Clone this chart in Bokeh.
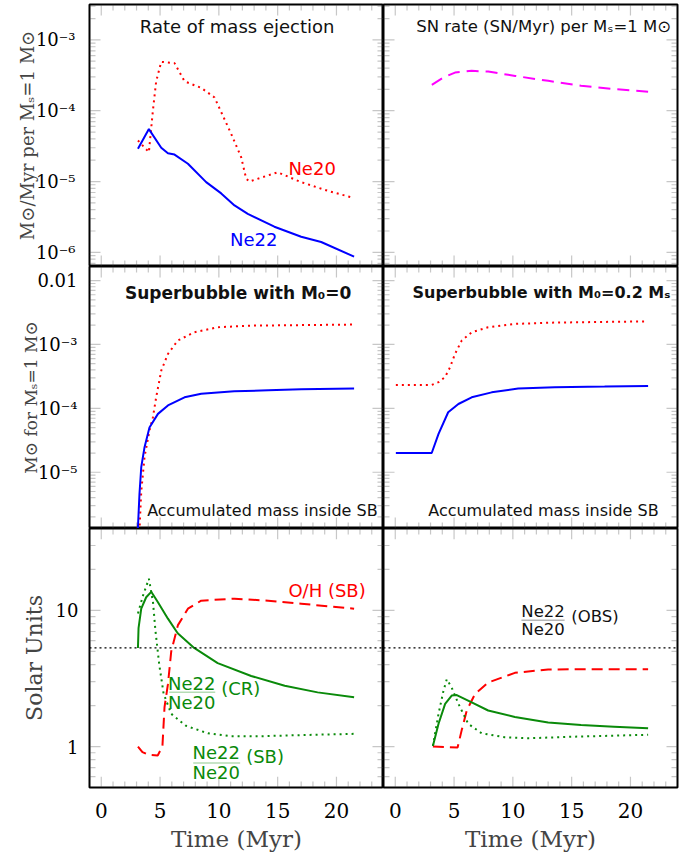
import math
from bokeh.plotting import figure
from bokeh.layouts import gridplot
from bokeh.models import (Range1d, LinearAxis, LogAxis, FixedTicker, Grid,
                          CustomJSTickFormatter, Label, Span, BoxAnnotation)
from bokeh.embed import file_html
from bokeh.resources import INLINE

# ---------------- data ----------------
time_ticks = [0, 5, 10, 15, 20]
time_tick_labels = ["0", "5", "10", "15", "20"]

ej_ticks = [1e-6, 1e-5, 1e-4, 1e-3]
ej_tick_labels = ["10⁻⁶", "10⁻⁵", "10⁻⁴", "10⁻³"]
acc_ticks = [1e-5, 1e-4, 1e-3, 1e-2]
acc_tick_labels = ["10⁻⁵", "10⁻⁴", "10⁻³", "0.01"]
sol_ticks = [1, 10]
sol_tick_labels = ["1", "10"]

# Rate of mass ejection (Msun/Myr per Ms = 1 Msun)
ej_t_ne22 = [3.12, 4.05, 5.10, 5.67, 6.23, 7.37, 8.92, 10.2, 11.33, 12.46, 14.72, 17.0, 18.7, 21.5]
ej_ne22 = [2.9e-5, 5.5e-5, 3.0e-5, 2.5e-5, 2.4e-5, 1.78e-5, 9.8e-6, 6.8e-6, 4.6e-6, 3.5e-6,
           2.3e-6, 1.66e-6, 1.4e-6, 8.7e-7]
ej_t_ne20 = [3.12, 4.05, 4.39, 4.67, 5.10, 6.23, 7.08, 8.5, 9.63, 11.05, 11.9, 12.32, 12.6,
             15.0, 17.0, 19.26, 21.4]
ej_ne20 = [3.8e-5, 2.6e-5, 1.0e-4, 2.6e-4, 4.9e-4, 4.7e-4, 2.6e-4, 2.1e-4, 1.54e-4, 4.7e-5,
           2.2e-5, 1.1e-5, 1.0e-5, 1.35e-5, 9.8e-6, 7.4e-6, 5.9e-6]

# SN rate (SN/Myr) per Ms = 1 Msun
sn_t = [3.11, 4.1, 5.08, 6.5, 7.9, 10.2, 13.0, 15.8, 18.6, 21.5]
sn_rate = [2.32e-4, 2.94e-4, 3.46e-4, 3.66e-4, 3.57e-4, 3.10e-4, 2.64e-4, 2.25e-4, 2.02e-4, 1.86e-4]

# Accumulated mass inside superbubble, M0 = 0
acc0_t_ne22 = [3.10, 3.12, 3.25, 3.40, 3.68, 4.10, 4.82, 5.67, 7.08, 8.5, 11.3, 14.2, 17.0, 21.5]
acc0_ne22 = [5e-7, 1.38e-6, 4.6e-6, 1.2e-5, 2.47e-5, 5.0e-5, 8.2e-5, 1.11e-4, 1.49e-4, 1.69e-4,
             1.85e-4, 1.92e-4, 1.99e-4, 2.04e-4]
acc0_t_ne20 = [3.15, 3.4, 3.68, 4.10, 4.39, 4.67, 5.10, 5.67, 6.5, 7.9, 9.9, 12.7, 16.0, 21.5]
acc0_ne20 = [5e-7, 5e-6, 1.74e-5, 4.5e-5, 7.2e-5, 1.49e-4, 3.9e-4, 7.1e-4, 1.15e-3, 1.55e-3,
             1.86e-3, 1.97e-3, 2.0e-3, 2.05e-3]

# Accumulated mass inside superbubble, M0 = 0.2 Ms
acc2_t_ne22 = [0.05, 3.1, 3.68, 4.5, 5.37, 6.5, 8.2, 10.45, 13.56, 17.8, 21.5]
acc2_ne22 = [2.0e-5, 2.0e-5, 4.0e-5, 8.7e-5, 1.17e-4, 1.49e-4, 1.78e-4, 2.04e-4, 2.14e-4,
             2.19e-4, 2.24e-4]
acc2_t_ne20 = [0.05, 3.1, 3.68, 4.24, 4.66, 5.08, 5.65, 6.5, 7.9, 10.2, 13.56, 21.5]
acc2_ne20 = [2.33e-4, 2.33e-4, 2.57e-4, 3.1e-4, 4.4e-4, 7.1e-4, 1.15e-3, 1.55e-3, 1.86e-3,
             2.1e-3, 2.2e-3, 2.3e-3]

# Solar units, M0 = 0
sol0_t_cr = [3.12, 3.17, 3.4, 3.82, 4.25, 4.82, 5.67, 6.5, 7.9, 9.9, 12.75, 15.6, 18.4, 21.5]
sol0_cr = [5.3, 7.4, 10.3, 12.5, 13.7, 11.5, 8.7, 6.8, 5.3, 4.1, 3.3, 2.8, 2.5, 2.3]
sol0_t_sb = [3.12, 3.54, 4.05, 4.4, 4.6, 4.93, 5.3, 5.95, 7.2, 9.07, 11.0, 13.5, 16.5, 21.5]
sol0_sb = [9.5, 12.8, 17.1, 11.5, 7.2, 4.0, 2.45, 1.74, 1.42, 1.25, 1.19, 1.19, 1.21, 1.24]
sol0_t_oh = [3.12, 3.5, 4.0, 4.8, 5.2, 5.38, 5.67, 5.95, 6.52, 7.37, 8.5, 11.33, 14.2, 17.0, 21.5]
sol0_oh = [1.0, 0.91, 0.87, 0.86, 1.0, 1.95, 2.87, 5.0, 7.8, 10.3, 11.8, 12.2, 11.8, 11.2, 10.3]

# Solar units, M0 = 0.2 Ms
sol2_t_cr = [3.2, 3.68, 4.24, 4.8, 5.23, 6.5, 7.9, 10.17, 13.0, 15.8, 18.6, 21.5]
sol2_cr = [1.01, 1.47, 2.06, 2.37, 2.39, 2.11, 1.84, 1.65, 1.50, 1.44, 1.40, 1.36]
sol2_t_sb = [3.2, 3.68, 4.1, 4.38, 4.8, 5.37, 6.2, 7.35, 9.3, 11.3, 15.0, 21.5]
sol2_sb = [1.01, 1.74, 2.57, 3.12, 2.71, 2.06, 1.47, 1.25, 1.17, 1.15, 1.18, 1.22]
sol2_t_oh = [3.2, 5.3, 5.65, 6.08, 6.78, 7.9, 10.17, 13.0, 16.4, 21.5]
sol2_oh = [1.0, 0.985, 1.32, 1.84, 2.43, 2.95, 3.48, 3.68, 3.70, 3.70]

# observed Ne22/Ne20 ratio (solar units)
obs_ratio = 5.3

# ---------------- styling ----------------
RED = "#ff0000"
BLUE = "#0000ff"
GREEN = "#0a8a0a"
MAGENTA = "#ff00ff"
TICK = "#444444"
SANS = "DejaVu Sans"
SERIF = "DejaVu Serif"

FW = 294
ROW_H = [262, 262, 264]
XR = (-1, 24)
YR = [(10 ** -6.2, 10 ** -2.5), (10 ** -5.88, 10 ** -1.78), (0.5, 40.0)]
MAJOR_LEN = 11   # px
MINOR_LEN = 6    # px

log_minor = [m * 10.0 ** k for k in range(-8, 3) for m in range(2, 10)]
time_minor = list(range(-1, 25))


def formatter(tvals, tlabels):
    return CustomJSTickFormatter(args=dict(tvals=tvals, tlabels=tlabels), code="""
        for (let i = 0; i < tvals.length; i++) {
            if (Math.abs(tvals[i] - tick) <= 1e-9 * Math.abs(tvals[i])) return tlabels[i];
        }
        return "";
    """)


def label_axis(ax):
    ax.axis_line_color = None
    ax.major_tick_line_color = None
    ax.minor_tick_line_color = None
    ax.major_tick_out = 0
    ax.minor_tick_out = 0
    ax.major_label_text_font = SERIF
    ax.major_label_text_color = "black"


def tick_mark(p, left, right, bottom, top):
    p.add_layout(BoxAnnotation(left=left, right=right, bottom=bottom, top=top,
                               fill_alpha=0, line_color=TICK, line_width=1.2))


def inward_ticks(p, row, yticks):
    """Inward tick marks on all four frame edges; the pixel lengths are converted
    to data units from the frame geometry."""
    y0, y1 = YR[row]
    x0, x1 = XR
    px_per_x = FW / (x1 - x0)
    px_per_dec = ROW_H[row] / (math.log10(y1) - math.log10(y0))

    for vals, length in ((yticks, MAJOR_LEN), (log_minor, MINOR_LEN)):
        dx = length / px_per_x
        for v in vals:
            if y0 < v < y1:
                tick_mark(p, x0, x0 + dx, v, v)
                tick_mark(p, x1 - dx, x1, v, v)
    xmin = [v for v in time_minor if v not in time_ticks]
    for vals, length in ((time_ticks, MAJOR_LEN), (xmin, MINOR_LEN)):
        f = 10 ** (length / px_per_dec)
        for v in vals:
            if x0 < v < x1:
                tick_mark(p, v, v, y0, y0 * f)
                tick_mark(p, v, v, y1 / f, y1)


def panel(row, col, yticks, ylabels, ytitle=None, ytitle_size="18px",
          ytitle_standoff=0, ytick_standoff=12):
    left = 89 if col == 0 else 0
    right = 0 if col == 0 else 12
    top = 4 if row == 0 else 0
    bottom = 62 if row == 2 else 0
    p = figure(width=FW + left + right, height=ROW_H[row] + top + bottom,
               x_range=Range1d(*XR), y_range=Range1d(*YR[row]), y_axis_type="log",
               x_axis_location=None, y_axis_location=None,
               output_backend="svg", toolbar_location=None,
               min_border_left=left, min_border_right=right,
               min_border_top=top, min_border_bottom=bottom)
    p.center = [r for r in p.center if not isinstance(r, Grid)]
    p.outline_line_color = "black"
    p.outline_line_width = 2
    p.background_fill_color = "white"
    p.border_fill_color = "white"

    if row == 2:
        bx = LinearAxis(ticker=FixedTicker(ticks=time_ticks),
                        formatter=formatter(time_ticks, time_tick_labels))
        label_axis(bx)
        bx.major_label_text_font_size = "20px"
        bx.major_label_standoff = 15
        bx.axis_label = "Time (Myr)"
        bx.axis_label_text_font = SERIF
        bx.axis_label_text_font_size = "23px"
        bx.axis_label_text_font_style = "normal"
        bx.axis_label_standoff = 5
        p.add_layout(bx, "below")

    if col == 0:
        ly = LogAxis(ticker=FixedTicker(ticks=yticks), formatter=formatter(yticks, ylabels))
        label_axis(ly)
        ly.major_label_text_font_size = "18px"
        ly.major_label_standoff = ytick_standoff
        ly.axis_label = ytitle
        ly.axis_label_text_font = SERIF
        ly.axis_label_text_font_size = ytitle_size
        ly.axis_label_text_font_style = "normal"
        ly.axis_label_standoff = ytitle_standoff
        p.add_layout(ly, "left")

    inward_ticks(p, row, yticks)
    return p


def label(p, x, y, text, size="18px", color="#111111", align="center", style="normal"):
    p.add_layout(Label(x=x, y=y, text=text, text_font=SANS, text_font_size=size,
                       text_color=color, text_align=align, text_baseline="middle",
                       text_font_style=style))


def fraction(p, x, y_num, y_bar, y_den, x0, x1, color, size="18px"):
    label(p, x, y_num, "Ne22", size=size, color=color)
    p.add_layout(BoxAnnotation(left=x0, right=x1, top=y_bar, bottom=y_bar,
                               fill_alpha=0, line_color=color, line_width=1.5))
    label(p, x, y_den, "Ne20", size=size, color=color)


# ---------------- panels ----------------
p1 = panel(0, 0, ej_ticks, ej_tick_labels, "M⊙/Myr per Mₛ=1 M⊙", "18px", -5, 14)
p2 = panel(0, 1, ej_ticks, ej_tick_labels)
p3 = panel(1, 0, acc_ticks, acc_tick_labels, "M⊙ for Mₛ=1 M⊙", "17px", -7, 12)
p4 = panel(1, 1, acc_ticks, acc_tick_labels)
p5 = panel(2, 0, sol_ticks, sol_tick_labels, "Solar Units", "22px", 6, 11)
p6 = panel(2, 1, sol_ticks, sol_tick_labels)

# top-left: rate of mass ejection
p1.line(ej_t_ne20, ej_ne20, line_color=RED, line_width=2, line_dash="2 4")
p1.line(ej_t_ne22, ej_ne22, line_color=BLUE, line_width=2)
label(p1, 11.55, 1.55e-3, "Rate of mass ejection", size="18px")
label(p1, 17.93, 1.54e-5, "Ne20", color=RED)
label(p1, 12.96, 1.53e-6, "Ne22", color=BLUE)

# top-right: SN rate
p2.line(sn_t, sn_rate, line_color=MAGENTA, line_width=2, line_dash="12 7")
label(p2, 23.45, 1.55e-3, "SN rate (SN/Myr) per Mₛ=1 M⊙", size="16.5px", align="right")

# middle-left: superbubble M0 = 0
p3.line(acc0_t_ne20, acc0_ne20, line_color=RED, line_width=2, line_dash="2 4")
p3.line(acc0_t_ne22, acc0_ne22, line_color=BLUE, line_width=2)
label(p3, 11.64, 6.5e-3, "Superbubble with M₀=0", size="17px", style="bold")
label(p3, 23.5, 2.5e-6, "Accumulated mass inside SB", size="16px", align="right")

# middle-right: superbubble M0 = 0.2 Ms
p4.line(acc2_t_ne20, acc2_ne20, line_color=RED, line_width=2, line_dash="2 4")
p4.line(acc2_t_ne22, acc2_ne22, line_color=BLUE, line_width=2)
label(p4, 12.43, 6.5e-3, "Superbubble with M₀=0.2 Mₛ", size="16px", style="bold")
label(p4, 22.4, 2.5e-6, "Accumulated mass inside SB", size="16px", align="right")

# bottom-left: solar units, M0 = 0
for p in (p5, p6):
    p.add_layout(Span(location=obs_ratio, dimension="width", line_color="black",
                      line_width=1.3, line_dash="2 3"))
p5.line(sol0_t_oh, sol0_oh, line_color=RED, line_width=2, line_dash="11 6")
p5.line(sol0_t_sb, sol0_sb, line_color=GREEN, line_width=2, line_dash="2 4")
p5.line(sol0_t_cr, sol0_cr, line_color=GREEN, line_width=2)
label(p5, 19.2, 14.0, "O/H (SB)", color=RED)
fraction(p5, 7.69, 2.92, 2.50, 2.11, 5.78, 9.69, GREEN)
label(p5, 10.2, 2.68, "(CR)", color=GREEN, align="left")
fraction(p5, 9.77, 0.898, 0.757, 0.643, 7.82, 11.81, GREEN)
label(p5, 12.32, 0.847, "(SB)", color=GREEN, align="left")

# bottom-right: solar units, M0 = 0.2 Ms
p6.line(sol2_t_oh, sol2_oh, line_color=RED, line_width=2, line_dash="11 6")
p6.line(sol2_t_sb, sol2_sb, line_color=GREEN, line_width=2, line_dash="2 4")
p6.line(sol2_t_cr, sol2_cr, line_color=GREEN, line_width=2)
fraction(p6, 12.57, 9.87, 8.47, 7.25, 10.73, 14.4, "#111111", size="16.5px")
label(p6, 14.97, 9.08, "(OBS)", size="16.5px", align="left")

grid = gridplot([[p1, p2], [p3, p4], [p5, p6]], toolbar_location=None)

open("out.html", "w").write(file_html(grid, INLINE))
